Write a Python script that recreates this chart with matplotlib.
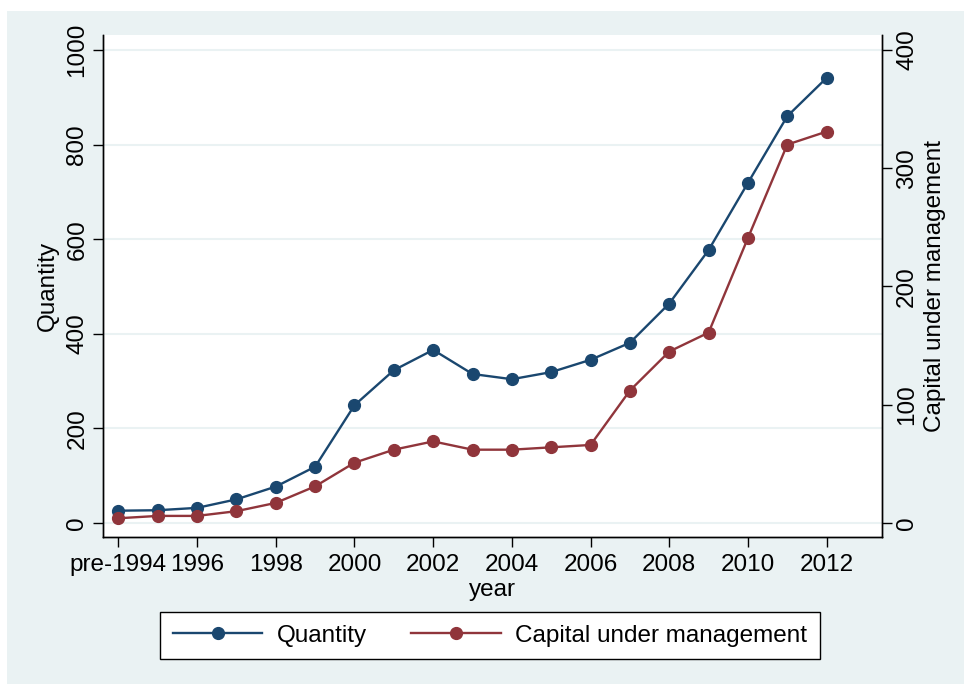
import matplotlib
matplotlib.use("Agg")
import matplotlib.pyplot as plt
from matplotlib.patches import Rectangle

years = list(range(1994, 2013))
quantity = [26, 27, 32, 50, 77, 119, 249, 323, 366, 315, 304, 319, 345, 381, 464, 577, 719, 860, 941]
capital = [4, 6, 6, 10, 17, 31, 51, 62, 69, 62, 62, 64, 66, 112, 145, 161, 241, 320, 331]
tick_years = list(range(1994, 2013, 2))
tick_labels = ['pre-1994'] + [str(y) for y in tick_years[1:]]
left_ticks = [0, 200, 400, 600, 800, 1000]
right_ticks = [0, 100, 200, 300, 400]

plt.rcParams['font.family'] = ['Liberation Sans', 'DejaVu Sans']
fs = 17.5
blue = '#1a476f'
red = '#90353b'
bg = '#eaf2f3'

W, H = 964, 684
fig = plt.figure(figsize=(W / 100, H / 100), dpi=100, facecolor='white')
fig.patches.append(Rectangle((7 / W, 0), 957 / W, (H - 11) / H, transform=fig.transFigure,
                             facecolor=bg, edgecolor='none', zorder=-10))

x0, x1, y0, y1 = 102.7, 881.7, 35, 537
ax = fig.add_axes([x0 / W, 1 - y1 / H, (x1 - x0) / W, (y1 - y0) / H])
ax.set_facecolor('white')
ax2 = ax.twinx()

ax.plot(years, quantity, color=blue, lw=1.7, marker='o', ms=8.5, label='Quantity')
ax2.plot(years, capital, color=red, lw=1.7, marker='o', ms=8.5, label='Capital under management')

ylo, yhi = -29.6, 1031.7
ax.set_ylim(ylo, yhi)
ax2.set_ylim(ylo * 0.4, yhi * 0.4)
ax.set_xlim(1993.6, 2013.4)

ax.set_yticks(left_ticks)
ax2.set_yticks(right_ticks)
ax.set_xticks(tick_years)
ax.set_xticklabels(tick_labels)

ax.grid(axis='y', color=bg, lw=1.5)
ax.set_axisbelow(True)

for a in (ax, ax2):
    a.spines['top'].set_visible(False)
    for s in ('left', 'right', 'bottom'):
        a.spines[s].set_color('black')
        a.spines[s].set_linewidth(1.0)
    a.tick_params(length=7, width=1, color='black', labelsize=fs)

ax.tick_params(axis='y', labelrotation=90, pad=3.4)
ax2.tick_params(axis='y', labelrotation=90, pad=3.4)
for t in ax.get_yticklabels() + ax2.get_yticklabels():
    t.set_va('center')
ax.tick_params(axis='x', pad=5.5)

ax.set_ylabel('Quantity', fontsize=fs)
ax.yaxis.set_label_coords(-0.056, 0.5)
ax2.set_ylabel('Capital under management', fontsize=fs)
ax2.yaxis.set_label_coords(1.054, 0.5)
ax.set_xlabel('year', fontsize=fs)
ax.xaxis.set_label_coords(0.5, -0.084)

h1, l1 = ax.get_legend_handles_labels()
h2, l2 = ax2.get_legend_handles_labels()
leg = fig.legend(h1 + h2, l1 + l2, loc='center', ncol=2, fontsize=fs,
                 bbox_to_anchor=(490 / W, 1 - 635.5 / H), frameon=True, fancybox=False,
                 framealpha=1, handlelength=3.7, handletextpad=0.6, columnspacing=1.8,
                 borderpad=0.5)
leg.get_frame().set_edgecolor('black')
leg.get_frame().set_linewidth(1.0)
leg.get_frame().set_facecolor('white')

fig.savefig('out.png', dpi=100, facecolor='white')
